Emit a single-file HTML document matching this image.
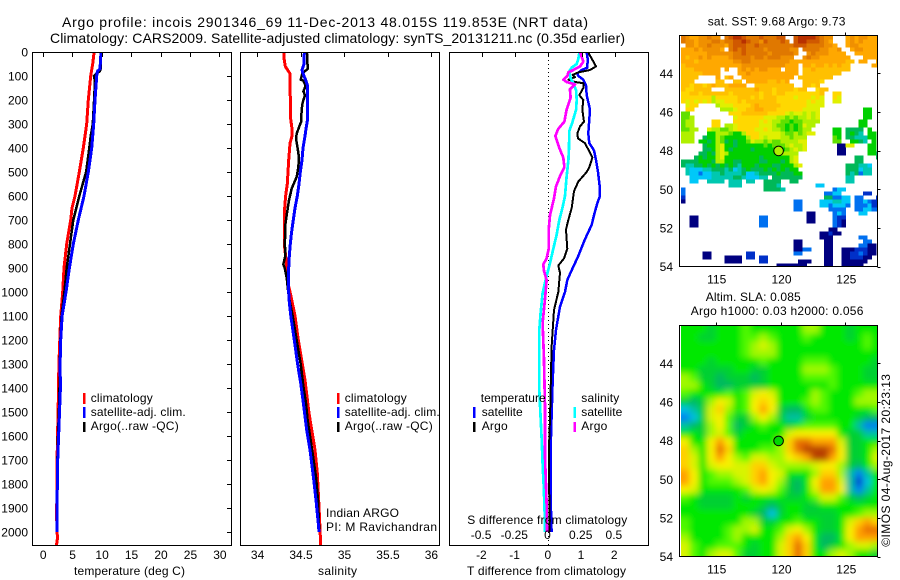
<!DOCTYPE html>
<html>
<head>
<meta charset="utf-8">
<title>Argo profile</title>
<style>
html,body{margin:0;padding:0;background:#fff;width:900px;height:580px;overflow:hidden}
svg{display:block}
text{font-family:"Liberation Sans",Arial,sans-serif;font-size:12px;fill:#000}
.t14{font-size:14px}
.frame{fill:none;stroke:#000;stroke-width:1;shape-rendering:crispEdges}
</style>
</head>
<body>
<svg id="fig" xmlns="http://www.w3.org/2000/svg" width="900" height="580" viewBox="0 0 900 580">
<defs>
<clipPath id="clipT"><rect x="32" y="52" width="200" height="493"/></clipPath>
<clipPath id="clipS"><rect x="240" y="52" width="200" height="493"/></clipPath>
<clipPath id="clipD"><rect x="449" y="52" width="200" height="493"/></clipPath>
<clipPath id="clipSst"><rect x="681" y="35.5" width="196.5" height="231"/></clipPath>
<clipPath id="clipSla"><rect x="681" y="325.5" width="196.5" height="231"/></clipPath>
<filter id="slaBlur" filterUnits="userSpaceOnUse" x="640" y="290" width="260" height="290"><feGaussianBlur stdDeviation="3.2"/></filter>
</defs>
<rect width="900" height="580" fill="#fff"/>

<text class="t14" x="62" y="27" textLength="526" lengthAdjust="spacing">Argo profile: incois 2901346_69 11-Dec-2013 48.015S 119.853E (NRT data)</text>
<text class="t14" x="50" y="43" textLength="575" lengthAdjust="spacing">Climatology: CARS2009. Satellite-adjusted climatology: synTS_20131211.nc (0.35d earlier)</text>

<g id="plotT" clip-path="url(#clipT)"></g>
<g id="plotS" clip-path="url(#clipS)"></g>
<g id="plotD" clip-path="url(#clipD)"></g>
<g id="mapSst" clip-path="url(#clipSst)"></g>
<g clip-path="url(#clipSla)"><g id="mapSla" filter="url(#slaBlur)"></g></g>

<rect class="frame" x="32.5" y="52.5" width="199" height="493"/>
<rect class="frame" x="240.5" y="52.5" width="199" height="493"/>
<rect class="frame" x="449.5" y="52.5" width="199" height="493"/>
<rect class="frame" x="679.5" y="35.5" width="198" height="231"/>
<rect class="frame" x="679.5" y="325.5" width="198" height="231"/>
<g id="axes"></g>

<text x="74" y="575" textLength="111" lengthAdjust="spacing">temperature (deg C)</text>
<text x="318" y="575" textLength="39" lengthAdjust="spacing">salinity</text>
<text x="467" y="575" textLength="159" lengthAdjust="spacing">T difference from climatology</text>
<text x="467.3" y="524" textLength="160" lengthAdjust="spacing">S difference from climatology</text>

<g>
<rect x="83" y="393" width="2.5" height="11" fill="#f00"/>
<rect x="83" y="407" width="2.5" height="11" fill="#00f"/>
<rect x="83" y="422" width="2.5" height="10" fill="#000"/>
<text x="90.7" y="402" textLength="62" lengthAdjust="spacing">climatology</text>
<text x="90.7" y="416" textLength="95" lengthAdjust="spacing">satellite-adj. clim.</text>
<text x="90.7" y="430" textLength="88" lengthAdjust="spacing">Argo(..raw -QC)</text>
</g>
<g>
<rect x="337" y="393" width="2.5" height="11" fill="#f00"/>
<rect x="337" y="407" width="2.5" height="11" fill="#00f"/>
<rect x="337" y="422" width="2.5" height="10" fill="#000"/>
<text x="344.7" y="402" textLength="62" lengthAdjust="spacing">climatology</text>
<text x="344.7" y="416" textLength="95" lengthAdjust="spacing">satellite-adj. clim.</text>
<text x="344.7" y="430" textLength="88" lengthAdjust="spacing">Argo(..raw -QC)</text>
<text x="326" y="517" textLength="73" lengthAdjust="spacing">Indian ARGO</text>
<text x="326" y="531" textLength="111" lengthAdjust="spacing">PI: M Ravichandran</text>
</g>
<g>
<text x="480.7" y="402" textLength="65" lengthAdjust="spacing">temperature</text>
<text x="481.7" y="416" textLength="41" lengthAdjust="spacing">satellite</text>
<text x="481.7" y="430" textLength="26" lengthAdjust="spacing">Argo</text>
<rect x="473" y="407" width="2.5" height="11" fill="#00f"/>
<rect x="473" y="422" width="2.5" height="10" fill="#000"/>
<text x="581.3" y="402" textLength="38" lengthAdjust="spacing">salinity</text>
<text x="581.3" y="416" textLength="41" lengthAdjust="spacing">satellite</text>
<text x="581.3" y="430" textLength="26" lengthAdjust="spacing">Argo</text>
<rect x="573.5" y="407" width="2.5" height="11" fill="#0ff"/>
<rect x="573.5" y="422" width="2.5" height="10" fill="#f0f"/>
</g>

<text x="707.7" y="25.7" textLength="137.7" lengthAdjust="spacing">sat. SST: 9.68 Argo: 9.73</text>
<text x="705.7" y="301" textLength="95" lengthAdjust="spacing">Altim. SLA: 0.085</text>
<text x="690.7" y="315" textLength="172.7" lengthAdjust="spacing">Argo h1000: 0.03 h2000: 0.056</text>
<text transform="translate(890,546.7) rotate(-90)" x="0" y="0" textLength="172.7" lengthAdjust="spacing">©IMOS 04-Aug-2017 20:23:13</text>
</svg>

<script>
// ---- axis ticks
const depthTicks = [0,100,200,300,400,500,600,700,800,900,1000,1100,1200,1300,1400,1500,1600,1700,1800,1900,2000];
const tempTicks = [0,5,10,15,20,25,30];
const salTicks = [34,34.5,35,35.5,36];
const tDiffTicks = [-2,-1,0,1,2];
const sDiffTicks = [-0.5,-0.25,0,0.25,0.5];
const lonTicks = [115,120,125];
const latTicks = [44,46,48,50,52,54];

// ---- temperature panel
const tClimDepth = [0,50,100,200,300,400,500,600,650,700,800,900,1000,1100,1200,1300,1400,1500,1600,1700,1800,1900,2000,2020,2054];
const tClimValue = [8.72,8.49,8.15,7.75,7.47,6.9,6.22,5.49,4.98,4.75,4.07,3.62,3.4,3.05,2.9,2.75,2.68,2.62,2.52,2.45,2.42,2.38,2.4,2.55,2.35];
const tSatDepth = [0,70,80,100,200,300,400,500,600,700,800,900,1000,1100,1200,1300,1400,1500,1600,1700,1800,1900,2000];
const tSatValue = [9.9,9.73,9.28,9.17,8.88,8.66,8.32,7.75,7.02,6.05,5.2,4.53,3.96,3.3,3.05,2.95,3.0,2.85,2.7,2.55,2.5,2.4,2.4];
const tArgoDepth = [0,70,80,90,100,120,200,300,350,400,500,600,700,800,900,1000,1100,1200,1300,1400,1500,1600,1700,1800,1900,2000];
const tArgoValue = [9.9,9.85,9.7,9.17,8.7,8.88,8.72,8.5,8.15,7.92,7.36,6.22,5.2,4.64,4.07,3.68,3.2,3.0,2.9,2.85,2.75,2.6,2.5,2.45,2.4,2.38];

// ---- salinity panel
const sClimDepth = [0,25,60,75,90,200,280,320,350,380,450,500,550,600,650,700,800,850,900,950,1000,1030,1100,1200,1300,1367,1505,1658,1755,1894,2054];
const sClimValue = [34.307,34.307,34.322,34.349,34.376,34.38,34.384,34.399,34.399,34.376,34.361,34.353,34.345,34.326,34.315,34.311,34.311,34.326,34.338,34.345,34.376,34.395,34.434,34.472,34.518,34.549,34.595,34.664,34.691,34.71,34.729];
const sSatDepth = [0,50,75,85,100,120,140,200,280,320,350,400,450,500,550,600,650,700,750,800,850,900,1000,1030,1100,1200,1300,1380,1464,1575,1658,1770,1867,1964,2000];
const sSatValue = [34.541,34.537,34.514,34.522,34.537,34.56,34.579,34.579,34.579,34.56,34.549,34.526,34.514,34.495,34.48,34.46,34.434,34.414,34.395,34.38,34.368,34.361,34.361,34.365,34.385,34.426,34.464,34.499,34.53,34.568,34.606,34.645,34.675,34.702,34.71];
const sArgoDepth = [0,10,70,80,90,115,120,125,140,165,180,210,240,290,310,340,360,400,440,480,520,570,620,680,720,800,850,885,900,940,1000,1030,1100,1200,1300,1394,1464,1533,1644,1770,1867,2000];
const sArgoValue = [34.553,34.575,34.579,34.549,34.518,34.499,34.53,34.537,34.556,34.53,34.549,34.522,34.51,34.506,34.483,34.453,34.445,34.464,34.48,34.472,34.453,34.395,34.364,34.338,34.322,34.318,34.322,34.299,34.315,34.338,34.356,34.368,34.407,34.453,34.499,34.53,34.56,34.579,34.625,34.675,34.698,34.714];

// ---- difference panel
const dTSatDepth = [0,30,65,75,90,100,115,140,180,240,280,340,380,410,450,500,560,600,630,680,720,780,850,900,950,1000,1061,1158,1242,1380,1519,1658,1853,1999];
const dTSatValue = [1.156,1.186,1.176,1.005,0.874,0.905,1.055,1.136,1.156,1.256,1.236,1.206,1.236,1.377,1.437,1.497,1.548,1.558,1.477,1.377,1.307,1.106,0.905,0.734,0.573,0.503,0.352,0.231,0.171,0.131,0.1,0.07,0.07,0.1];
const dTArgoDepth = [0,15,35,60,75,85,95,105,115,125,130,150,180,200,240,290,310,340,360,380,420,440,480,500,540,580,650,700,740,820,860,890,920,1000,1075,1228,1339,1530,1644,1881,2000];
const dTArgoValue = [1.206,1.256,1.337,1.437,1.256,0.905,0.734,0.804,0.603,0.804,1.055,1.055,0.935,1.055,1.025,1.075,0.955,0.874,0.894,1.106,1.256,1.327,1.236,1.156,0.905,0.774,0.704,0.603,0.533,0.573,0.472,0.302,0.352,0.302,0.171,0.1,0.08,0.05,0.02,0.03,0.03];
const dSSatDepth = [0,30,50,65,80,110,130,160,200,240,290,330,400,450,520,600,650,700,760,820,880,950,1005,1089,1158,1408,1617,1714,1825,1964,2000];
const dSSatValue = [0.234,0.226,0.214,0.176,0.158,0.168,0.188,0.209,0.214,0.209,0.183,0.158,0.156,0.151,0.138,0.126,0.106,0.083,0.063,0.038,0.013,-0.02,-0.043,-0.058,-0.068,-0.068,-0.05,-0.043,-0.033,-0.025,-0.025];
const dSArgoDepth = [0,20,40,60,75,85,100,115,125,135,155,190,240,290,320,350,400,440,480,510,560,610,680,740,820,860,885,910,950,1030,1130,1269,1478,1686,1881,2000];
const dSArgoValue = [0.239,0.251,0.264,0.239,0.188,0.151,0.143,0.113,0.138,0.201,0.163,0.168,0.138,0.121,0.075,0.053,0.083,0.113,0.121,0.093,0.058,0.043,0.013,0.003,0.003,-0.013,-0.038,-0.033,-0.013,-0.025,-0.043,-0.033,-0.025,-0.025,-0.013,-0.01];

// ---- argo float position
const floatLon = 119.853;
const floatLat = 48.015;

// ---- SST map, one letter per grid cell (a = coldest bin, q = warmest, . = no data)
const sstRows = [
"onmmnnonn.opqqpooopooopp..pqqqqponn...mnmnnmmm",
"onnmnnnoonooppqpoonpooopo.pqqppponm...mnmnmmmm",
".nnmnnonnnmopppoopoooooooopppoooonnm..mnnmmmmm",
"mmmnmnnnnm.opopoooonooooonn.oooonnmmn..mnnmmmm",
"mmmmmmnnnnnnoopooooonooooon..nonnnmmmm..mmmmmm",
"mlmmnmnmmmmnoooonoonooonnn..nonnmmmmmmm...mmmm",
"mmmlmmmmmmmmnnoonnnnnnnnnmmmmmmmmmmmmmll.mm..m",
"lmmmmmmmmmmmmmnnnnnnnnnnmmm.mmlmmlmlmll.....mm",
"lllmmmmmm.m..mnmnmnnmmm.mmm.llmllllllll.......",
"lllllmmmm....mmnmmmmmmmmmmm.lllllllll.........",
"llll....m.lm..mmmmmmmmmmmm.llllllll...........",
"lll.....ll..ll.mmmmmllmlm...llllk.............",
"llkllklmlllmmmm..lllllllll..llkl..............",
"lkkllll...lllllllmlllkllllkll..kll............",
"kkllkllllllkllllllkllkllkkkkkkkkl..kk.........",
"kkkkkkkikkkkklllklklllkkkkjkkkjkj..kj.........",
"kjkjkjkijjkkklklllllllkkkkkkkjkjj..jj.........",
".jkk....ijjjkkkklmlllllkkkkkkjjjj.............",
".kk......iiijkkllmmlllkkkkkkjjjj..........gg...",
"hh.........kkkllllllkkkkjijjijij..........gg...",
"hhi.........jkkkkkkjjjiihihiijij..........gg...",
"hii....kk...kkkkkkjkjiihhghhiiii.........gg....",
"hii....kk.iijkkkkkjjjihhghghjii..........gg....",
"hhii..jiihhijkkkkjjkjiihghghii.....gg.ffff.g..",
"iii...ggiiihggikkkjjjjjihhihijj....gg.fgfe.gg.",
"iii..fggihgggggikkjijjjiihiii......hg.ffeeegg.",
"iii.ggfgihfgfgghjiihihhiiiijj......hh..ggfe.g.",
".....fggijggfgggggghghhhijiij.......aajj...gg.",
".....ffgijgfggggfggggggghijij.......aa.....gg.",
"....ffgfijiggggggggggghiiii.........aa.....ggf",
"...fgfggijggggggggfggggggij.............ff...f",
"ffffgggfiiggffggggffgggfgij.............ff....",
"feeffgfgfgfgfegggfgggffgggij..........fffeed..",
".edddeefffefdefgfffgfgfgfgg...........fffdee..",
".eddcddeefeeeefddeffffgfffgg..........fefcee..",
"..dddddeeeeeffedddee.fffffff..........ee......",
"..dd..eeee.eee.ee..ffff..ff...........ee......",
"...........eee.....fffe........dd.............",
"c..................ffffe...........cdd........",
"c................................ccdd.....bb..",
"b................................ffccdd.cc...bb.",
"a.........................cc....dddeedd.ccdcbb..",
"..........................cc....ddcdddc.cccdbb..",
"..........................cc......cccc..ccddcc..",
".............................aa....cdc...dd....",
"..aa..............cc.........aa....cbb.........",
"..aa..............cc.........aa....cba.........",
"..aa..............cc...............cba.........",
"..................................aa..........",
"................................aabaa.........",
"................................aaa......cc...",
"..........................aa.....aa.......cc...",
"..........................aa.....aa......ccaa..",
"..........................aacc...aa..aaabbbaa..",
".....aa........bb.........cc.....aa..aabbcbaa..",
".....aa...aaaa.bb.bb.............aa..aabbbaa...",
"..........aaaa....bb.......aaa...aa..aaaaaa....",
"......................aaaaaaa....aa..aaaaa....."
];

// ---- altimeter SLA map, one colour level per grid cell
const slaRow00 = [6,6,6,5,6,6,6,7,6,6,6,6,6,6,8,8,6,6,6,5,6,6,6];
const slaRow01 = [6,6,5,5,6,6,6,7,7,8,7,6,6,6,7,6,6,6,6,5,6,7,6];
const slaRow02 = [6,6,6,6,6,6,6,7,8,9,8,6,6,6,6,6,6,6,6,6,6,7,6];
const slaRow03 = [6,6,6,6,6,6,6,7,8,8,8,6,6,6,6,6,6,6,6,6,6,6,6];
const slaRow04 = [6,6,6,5,6,6,6,6,6,7,6,6,6,6,7,7,7,6,6,6,6,6,5];
const slaRow05 = [6,6,5,5,5,5,6,6,5,5,6,6,6,6,8,8,8,7,6,6,6,5,5];
const slaRow06 = [8,7,5,5,4,5,5,5,4,5,6,6,6,6,7,7,7,7,6,6,6,5,5];
const slaRow07 = [8,8,6,5,4,4,5,5,5,5,6,6,6,6,6,6,6,7,6,6,6,6,6];
const slaRow08 = [7,6,6,6,6,7,6,7,9,10,9,6,6,6,6,8,7,6,6,6,7,8,8];
const slaRow09 = [5,4,5,8,10,9,6,7,10,11,10,6,6,6,7,8,7,6,6,6,8,8,8];
const slaRow10 = [2,3,5,9,11,8,6,7,10,12,10,5,4,4,6,7,7,6,6,6,6,6,7];
const slaRow11 = [1,2,5,9,10,7,5,5,8,10,8,5,3,3,5,6,6,6,6,6,5,4,4];
const slaRow12 = [3,4,5,8,10,7,4,5,6,7,6,6,5,6,7,7,7,7,6,6,3,1,1];
const slaRow13 = [6,6,5,8,9,7,5,6,6,6,6,6,9,10,10,10,10,10,6,5,5,3,3];
const slaRow14 = [10,6,6,10,12,10,6,6,6,6,6,8,11,13,13,12,12,12,9,5,5,6,6];
const slaRow15 = [11,8,6,10,13,11,6,6,6,7,7,8,11,13,14,14,14,13,10,5,5,6,8];
const slaRow16 = [11,9,6,10,12,10,8,7,9,9,8,8,10,11,12,14,14,12,10,5,5,6,9];
const slaRow17 = [11,9,6,9,10,10,9,9,11,11,9,8,8,8,8,9,10,10,8,5,4,6,8];
const slaRow18 = [12,10,6,7,8,8,9,9,11,12,10,9,6,6,6,8,11,11,8,3,1,3,6];
const slaRow19 = [12,10,6,7,7,7,8,9,11,12,10,8,5,4,6,10,12,12,9,3,0,2,6];
const slaRow20 = [10,9,6,6,6,6,6,7,9,10,9,7,5,4,6,9,12,12,10,3,1,3,6];
const slaRow21 = [7,6,5,5,5,5,6,5,6,6,6,6,5,5,6,7,9,9,7,5,4,5,6];
const slaRow22 = [6,6,5,5,5,5,6,6,6,5,4,5,6,6,5,5,6,6,6,6,6,6,6];
const slaRow23 = [6,6,6,6,6,6,6,6,5,4,2,5,6,6,5,5,5,5,6,6,7,8,8];
const slaRow24 = [7,6,6,6,6,6,6,8,8,5,5,6,6,7,6,6,5,5,6,9,11,12,11];
const slaRow25 = [7,6,6,6,6,7,8,8,9,6,6,7,9,10,8,6,5,5,6,10,12,13,13];
const slaRow26 = [8,6,6,6,6,7,8,6,6,6,6,8,11,12,10,6,4,4,6,10,12,12,12];
const slaRow27 = [9,7,6,6,7,7,7,6,5,6,6,9,11,13,11,6,4,5,6,8,9,9,8];
const slaRow28 = [9,7,6,8,9,9,7,5,5,6,6,9,11,13,11,6,6,8,9,8,6,6,5];
const slaRows = [slaRow00,slaRow01,slaRow02,slaRow03,slaRow04,slaRow05,slaRow06,slaRow07,slaRow08,slaRow09,slaRow10,slaRow11,slaRow12,slaRow13,slaRow14,slaRow15,slaRow16,slaRow17,slaRow18,slaRow19,slaRow20,slaRow21,slaRow22,slaRow23,slaRow24,slaRow25,slaRow26,slaRow27,slaRow28];

// ---- colour scales
const sstBins = "abcdefghijklmnopq";
const sstColors = ["#000080","#0030c8","#0070f0","#00c8f8","#00c8b0","#00b858","#00d000","#60e000","#b0f000","#e0f000","#ffd800","#ffc000","#ffa800","#f09000","#e07800","#d05800","#b83000"];
const slaColors = ["#0030d0","#0080f0","#00c0e0","#00c0a0","#00b860","#00d030","#00e800","#50f800","#a0f800","#d8f400","#f8f000","#ffd000","#ffa000","#e87000","#b84000"];

// ---- axis functions
const NS = "http://www.w3.org/2000/svg";
const yDepth = d => 52 + 0.24 * d;
const xTemp = v => 42.7 + 5.89 * v;
const xSal = v => 257.3 + 86.9 * (v - 34);
const xTDiff = v => 548.3 + 33.2 * v;
const xSDiff = v => 548.3 + 132.8 * v;
const xLon = v => 715.7 + 12.96 * (v - 115);
const ySstLat = v => 73.3 + 19.33 * (v - 44);
const ySlaLat = v => 363.3 + 19.33 * (v - 44);

function make(parent, tag, attrs){
  const el = document.createElementNS(NS, tag);
  for (const k in attrs) el.setAttribute(k, attrs[k]);
  parent.appendChild(el);
  return el;
}
function drawLine(parentId, depths, values, xFn, color, width, label){
  const pts = depths.map((d, i) => xFn(values[i]).toFixed(1) + "," + yDepth(d).toFixed(1)).join(" ");
  const el = make(document.getElementById(parentId), "polyline", {points: pts, fill: "none", stroke: color, "stroke-width": width, "stroke-linejoin": "round", "shape-rendering": "crispEdges"});
  
  
}
function drawTick(x1, y1, x2, y2){
  const el = make(document.getElementById("axes"), "line", {x1: x1, y1: y1, x2: x2, y2: y2, stroke: "#000", "stroke-width": 1, "shape-rendering": "crispEdges"});
  
  
}
function drawLabel(x, y, str, anchor){
  const el = make(document.getElementById("axes"), "text", {x: x, y: y, "text-anchor": anchor});
  el.textContent = str;
  
  
}

// profile lines
drawLine("plotT", tClimDepth, tClimValue, xTemp, "#f00", 3, "temperature-climatology-line");
drawLine("plotT", tArgoDepth, tArgoValue, xTemp, "#000", 2.5, "temperature-argo-line");
drawLine("plotT", tSatDepth, tSatValue, xTemp, "#00f", 3, "temperature-satellite-line");
drawLine("plotS", sClimDepth, sClimValue, xSal, "#f00", 3, "salinity-climatology-line");
drawLine("plotS", sArgoDepth, sArgoValue, xSal, "#000", 2.5, "salinity-argo-line");
drawLine("plotS", sSatDepth, sSatValue, xSal, "#00f", 3, "salinity-satellite-line");

// zero line in difference panel
const zero = make(document.getElementById("plotD"), "line", {x1: xTDiff(0), y1: 52, x2: xTDiff(0), y2: 545, stroke: "#000", "stroke-width": 1, "stroke-dasharray": "1 3", "shape-rendering": "crispEdges"});


drawLine("plotD", dTSatDepth, dTSatValue, xTDiff, "#00f", 2.5, "t-difference-satellite-line");
drawLine("plotD", dTArgoDepth, dTArgoValue, xTDiff, "#000", 2, "t-difference-argo-line");
drawLine("plotD", dSSatDepth, dSSatValue, xSDiff, "#0ff", 2.7, "s-difference-satellite-line");
drawLine("plotD", dSArgoDepth, dSArgoValue, xSDiff, "#f0f", 2.7, "s-difference-argo-line");

// panel axes
depthTicks.forEach(d => {
  drawTick(227, Math.round(yDepth(d)) + 0.5, 231.5, Math.round(yDepth(d)) + 0.5);
  drawLabel(28, yDepth(d) + 4.5, String(d), "end");
});
tempTicks.forEach(v => {
  drawTick(Math.round(xTemp(v)) + 0.5, 52, Math.round(xTemp(v)) + 0.5, 57);
  drawLabel(xTemp(v) + 0.5, 559, String(v), "middle");
});
salTicks.forEach(v => {
  drawTick(Math.round(xSal(v)) + 0.5, 52, Math.round(xSal(v)) + 0.5, 57);
  drawLabel(xSal(v) + 0.3, 559, String(v), "middle");
});
tDiffTicks.forEach(v => {
  drawTick(Math.round(xTDiff(v)) + 0.5, 52, Math.round(xTDiff(v)) + 0.5, 57);
  drawLabel(xTDiff(v) - 0.5, 559, String(v), "middle");
});
sDiffTicks.forEach(v => {
  drawLabel(xSDiff(v) - 0.8, 539, String(v), "middle");
});

// SST cells
const mapSst = document.getElementById("mapSst");
const sstColW = 13 / 3, sstRowH = 4;
sstRows.forEach((row, r) => {
  for (let c = 0; c < row.length; c++) {
    const bin = sstBins.indexOf(row.charAt(c));
    if (bin < 0) continue;
    const cell = make(mapSst, "rect", {x: (681 + c * sstColW).toFixed(2), y: (35.33 + r * sstRowH).toFixed(2), width: (sstColW + 0.3).toFixed(2), height: sstRowH + 0.3, fill: sstColors[bin], "shape-rendering": "crispEdges"});
    
    
  }
});

// SLA cells (outer cells extended so that the smoothing does not fade at the edges)
const mapSla = document.getElementById("mapSla");
const slaColW = 26 / 3, slaRowH = 8, slaPad = 14;
slaRows.forEach((row, r) => {
  row.forEach((level, c) => {
    let x = 681 + c * slaColW, y = 325.33 + r * slaRowH, w = slaColW + 0.3, h = slaRowH + 0.3;
    if (c === 0) { x -= slaPad; w += slaPad; }
    if (r === 0) { y -= slaPad; h += slaPad; }
    if (c === row.length - 1) w += slaPad;
    if (r === slaRows.length - 1) h += slaPad;
    const cell = make(mapSla, "rect", {x: x.toFixed(2), y: y.toFixed(2), width: w.toFixed(2), height: h.toFixed(2), fill: slaColors[level], "shape-rendering": "crispEdges"});
    
    
  });
});

// map axes
lonTicks.forEach(v => {
  const x = Math.round(xLon(v)) + 0.5;
  drawTick(x, 32.5, x, 35.5);
  drawTick(x, 322.5, x, 325.5);
  drawLabel(xLon(v) + 1, 283.3, String(v), "middle");
  drawLabel(xLon(v) + 1, 573.3, String(v), "middle");
});
latTicks.forEach(v => {
  const y1 = Math.round(ySstLat(v)) + 0.5, y2 = Math.round(ySlaLat(v)) + 0.5;
  drawTick(877.5, y1, 880.5, y1);
  drawTick(877.5, y2, 880.5, y2);
  drawLabel(673, ySstLat(v) + 4.5, String(v), "end");
  drawLabel(673, ySlaLat(v) + 4.5, String(v), "end");
});

// float position markers
const sstMarker = make(document.getElementById("axes"), "circle", {cx: xLon(floatLon), cy: ySstLat(floatLat), r: 4.8, fill: "#b0f000", stroke: "#000", "stroke-width": 1});


const slaMarker = make(document.getElementById("axes"), "circle", {cx: xLon(floatLon), cy: ySlaLat(floatLat), r: 4.8, fill: "#00d800", stroke: "#000", "stroke-width": 1});


</script>
</body>
</html>
